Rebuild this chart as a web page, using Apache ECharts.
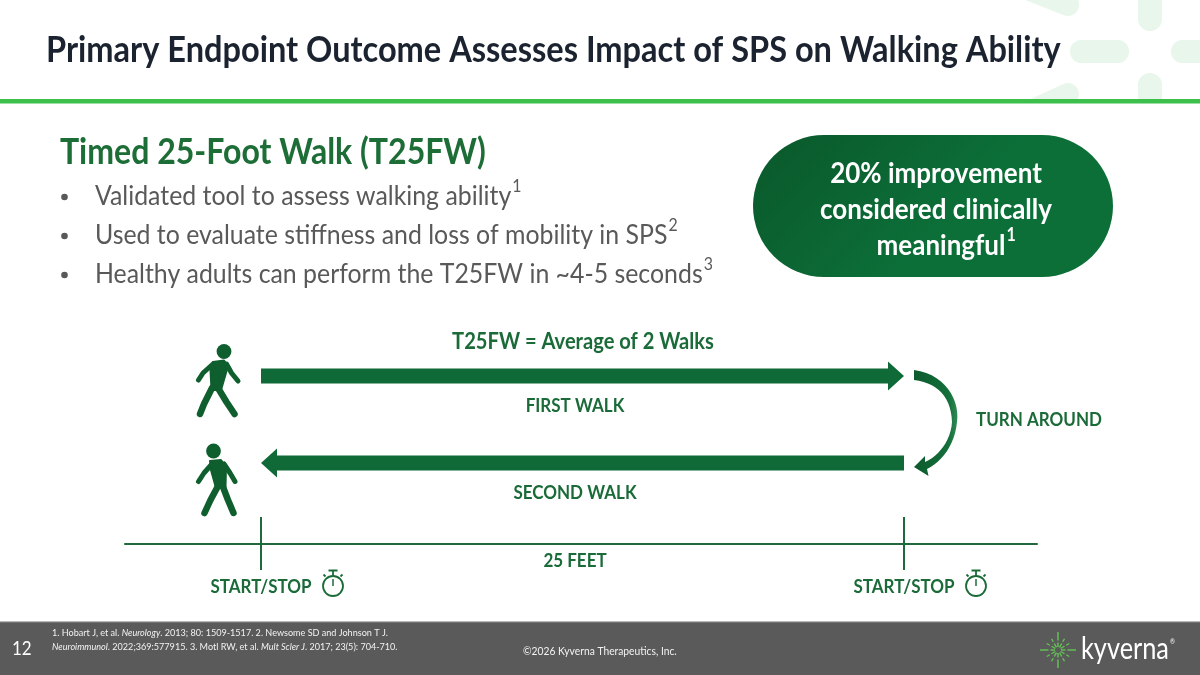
<!DOCTYPE html>
<html><head><meta charset="utf-8">
<script src="https://cdn.jsdelivr.net/npm/echarts@6/dist/echarts.min.js"></script>
<style>html,body{margin:0;padding:0;background:#fff}#c{width:1200px;height:675px}</style>
</head><body><div id="c"></div>
<script>
// ---------- content ----------
const slideTitle = 'Primary Endpoint Outcome Assesses Impact of SPS on Walking Ability';
const sectionTitle = 'Timed 25-Foot Walk (T25FW)';
const bulletTexts = [
  'Validated tool to assess walking ability',
  'Used to evaluate stiffness and loss of mobility in SPS',
  'Healthy adults can perform the T25FW in ~4-5 seconds'
];
const bulletRefs = ['1', '2', '3'];
const calloutLines = ['20% improvement', 'considered clinically', 'meaningful'];
const calloutRefs = ['', '', '1'];
const diagramTitle = 'T25FW = Average of 2 Walks';
const walkNames = ['FIRST WALK', 'SECOND WALK'];
const walkFromFt = [0, 25];
const walkToFt = [25, 0];
const timerMarksFt = [0, 25];
const timerLabel = 'START/STOP';
const distanceLabel = '25 FEET';
const turnLabel = 'TURN AROUND';
const footnoteLine1 = [['1. Hobart J, et al. ', 0], ['Neurology', 1], ['. 2013; 80: 1509-1517. 2. Newsome SD and Johnson T J.', 0]];
const footnoteLine2 = [['Neuroimmunol', 1], ['. 2022;369:577915. 3. Motl RW, et al. ', 0], ['Mult Scler J', 1], ['. 2017; 23(5): 704-710.', 0]];
const pageNumber = '12';
const copyrightText = '\u00a92026 Kyverna Therapeutics, Inc.';
const brandName = 'kyverna';

// ---------- helpers ----------
const FONT = 'Lato, "Open Sans", sans-serif';
const SY = 1.12; // vertical stretch to mimic the narrow original face
const ctx = document.createElement('canvas').getContext('2d');
function font(size, weight, style) { return (style || 'normal') + ' ' + (weight || 'normal') + ' ' + size + 'px ' + FONT; }
function tw(t, size, weight, style) { ctx.font = font(size, weight, style); return ctx.measureText(t).width; }
function fit(t, target, weight, style) { return +(100 * target / tw(t, 100, weight, style)).toFixed(2); }
function txt(text, x, y, size, fill, o) {
  o = o || {};
  return { type: 'text', silent: true, z: o.z || 20, x: x, y: y, scaleY: o.sy || SY,
    style: { text: text, x: 0, y: 0, font: font(size, o.weight, o.style), fill: fill,
      textAlign: o.align || 'left', textVerticalAlign: o.valign || 'middle' } };
}
function bez(p0, p1, p2, p3, n) {
  const out = [];
  for (let i = 1; i <= n; i++) {
    const t = i / n, u = 1 - t;
    out.push([u*u*u*p0[0] + 3*u*u*t*p1[0] + 3*u*t*t*p2[0] + t*t*t*p3[0],
              u*u*u*p0[1] + 3*u*u*t*p1[1] + 3*u*t*t*p2[1] + t*t*t*p3[1]]);
  }
  return out;
}

const GREEN = '#1b6b39';
const ARROW = '#0f6a38';
const GRAY = '#595959';
const DECO = '#e8f6eb';

const titleSize = fit(slideTitle, 1015, 'bold');
const sectionSize = fit(sectionTitle, 426, 'bold');
const bulletSize = fit(bulletTexts[2], 608);
const calloutSize = fit(calloutLines[1], 232, 'bold');
const diagTitleSize = fit(diagramTitle, 262, 'bold');
const labelSize = fit(turnLabel, 126, 'bold');
const footSize = fit(footnoteLine1.map(s => s[0]).join(''), 339);
const copySize = fit(copyrightText, 154);
const brandSize = fit(brandName, 88);

const els = [];

// decorative burst top-right
els.push({ type: 'rect', silent: true, z: 1, shape: { x: 1070, y: 40, width: 59, height: 23, r: 11.5 }, style: { fill: DECO } });
els.push({ type: 'rect', silent: true, z: 1, shape: { x: 1171, y: 40, width: 60, height: 23, r: 11.5 }, style: { fill: DECO } });
els.push({ type: 'rect', silent: true, z: 1, shape: { x: 1138, y: -25, width: 24, height: 56, r: 12 }, style: { fill: DECO } });
els.push({ type: 'rect', silent: true, z: 1, shape: { x: 1138, y: 73, width: 24, height: 50, r: 12 }, style: { fill: DECO } });
els.push({ type: 'polyline', silent: true, z: 1, shape: { points: [[1015, -16], [1068, 5]] }, style: { stroke: DECO, lineWidth: 22, lineCap: 'round' } });
els.push({ type: 'polyline', silent: true, z: 1, shape: { points: [[1068, 94], [1020, 116]] }, style: { stroke: DECO, lineWidth: 22, lineCap: 'round' } });
els.push({ type: 'rect', silent: true, z: 2, shape: { x: 990, y: 103, width: 210, height: 30 }, style: { fill: '#ffffff' } });
// header rule
els.push({ type: 'rect', silent: true, z: 3, shape: { x: 0, y: 99, width: 1200, height: 4.5 }, style: { fill: '#3dbf4c' } });

// title
els.push(txt(slideTitle, 46, 50, titleSize, '#1c2330', { weight: 'bold' }));
// section title
els.push(txt(sectionTitle, 60, 152, sectionSize, '#1d6d37', { weight: 'bold' }));
// bullets
const bulletY = [196, 235, 274];
bulletTexts.forEach((b, i) => {
  els.push({ type: 'circle', silent: true, z: 20, shape: { cx: 64.5, cy: bulletY[i] + 1, r: 3.3 }, style: { fill: GRAY } });
  els.push(txt(b, 95, bulletY[i], bulletSize, GRAY));
  els.push(txt(bulletRefs[i], 95 + tw(b, bulletSize) + 1, bulletY[i] - bulletSize * 0.4, bulletSize * 0.64, GRAY));
});

// callout pill
els.push({ type: 'rect', silent: true, z: 5, shape: { x: 753, y: 135, width: 360, height: 142, r: 71 },
  style: { fill: new echarts.graphic.LinearGradient(0, 0, 0.4, 1, [{ offset: 0, color: '#0a582b' }, { offset: 1, color: '#0c6f38' }]) } });
const calloutY = [174, 210, 246];
calloutLines.forEach((l, i) => {
  const w = tw(l, calloutSize, 'bold');
  const cx = i === 2 ? 941 : 936;
  els.push(txt(l, cx - w / 2, calloutY[i], calloutSize, '#ffffff', { weight: 'bold' }));
  if (calloutRefs[i]) els.push(txt(calloutRefs[i], cx + w / 2 + 1, calloutY[i] - calloutSize * 0.4, calloutSize * 0.62, '#ffffff', { weight: 'bold' }));
});

// diagram texts
els.push(txt(diagramTitle, 583, 342, diagTitleSize, GREEN, { weight: 'bold', align: 'center' }));
els.push(txt(walkNames[0], 575, 406, labelSize, GREEN, { weight: 'bold', align: 'center' }));
els.push(txt(walkNames[1], 575, 493, labelSize, GREEN, { weight: 'bold', align: 'center' }));
els.push(txt(distanceLabel, 575, 561, labelSize, GREEN, { weight: 'bold', align: 'center' }));
els.push(txt(turnLabel, 976, 420, labelSize, GREEN, { weight: 'bold' }));

// turn-around curved arrow
const outer = [[914, 370]].concat(
  bez([914, 370], [945, 374], [960, 400], [957, 422], 14),
  bez([957, 422], [955, 444], [942, 462], [927, 469], 12));
const inner = [[925, 462]].concat(
  bez([925, 462], [939, 456], [951, 440], [952, 422], 12),
  bez([952, 422], [951, 397], [938, 383], [914, 380], 14));
const curvePts = outer.concat([[928.5, 476], [914, 467], [925, 456]], inner);
els.push({ type: 'polygon', silent: true, z: 6, shape: { points: curvePts },
  style: { fill: new echarts.graphic.LinearGradient(0, 0, 1, 0, [{ offset: 0, color: '#0c5a2d' }, { offset: 0.8, color: '#146f3b' }, { offset: 1, color: '#2f8a55' }]) } });

// walkers
const WALK = '#0f5e2e';
function walker(head, torso, arms, legs) {
  const g = [];
  g.push({ type: 'circle', silent: true, z: 6, shape: { cx: head[0], cy: head[1], r: 7.4 }, style: { fill: WALK } });
  g.push({ type: 'polygon', silent: true, z: 6, shape: { points: torso }, style: { fill: WALK, stroke: WALK, lineWidth: 2, lineJoin: 'round' } });
  arms.forEach(l => g.push({ type: 'polyline', silent: true, z: 6, shape: { points: l }, style: { stroke: WALK, lineWidth: 5, lineCap: 'round', lineJoin: 'round', fill: null } }));
  legs.forEach(l => g.push({ type: 'polyline', silent: true, z: 6, shape: { points: l }, style: { stroke: WALK, lineWidth: 6.5, lineCap: 'round', lineJoin: 'round', fill: null } }));
  return g;
}
walker([224, 351.5],
  [[213, 362], [224, 360.5], [228, 366], [221, 390], [211.5, 390], [210.5, 370]],
  [[[213, 364], [203, 373], [198.5, 380]], [[226.5, 364], [231.5, 373], [238, 381]]],
  [[[212, 388], [204, 404], [200, 414]], [[218, 388], [226.5, 402], [234.5, 414]]]
).forEach(e => els.push(e));
walker([213.5, 451],
  [[210, 461], [221, 460], [226, 467], [225.5, 487], [216, 488], [211, 470]],
  [[[212, 464], [204, 473], [198.5, 481.5]], [[224, 464], [230, 473], [235, 481.5]]],
  [[[217.5, 487], [210.5, 500], [204.5, 513]], [[223, 487], [228, 500], [233.5, 513]]]
).forEach(e => els.push(e));

// footer
els.push({ type: 'rect', silent: true, z: 30, shape: { x: 0, y: 621, width: 1200, height: 54 }, style: { fill: '#5a5a5a' } });
els.push({ type: 'rect', silent: true, z: 31, shape: { x: 0, y: 621, width: 1200, height: 1.2 }, style: { fill: '#b9b9b9' } });
els.push(txt(pageNumber, 12, 649, 17, '#ffffff', { z: 32 }));
function footLine(segs, y) {
  let x = 52;
  segs.forEach(s => {
    const st = s[1] ? 'italic' : 'normal';
    els.push(txt(s[0], x, y, footSize, '#f2f2f2', { z: 32, style: st }));
    x += tw(s[0], footSize, 'normal', st);
  });
}
footLine(footnoteLine1, 633);
footLine(footnoteLine2, 647);
els.push(txt(copyrightText, 523, 651, copySize, '#f2f2f2', { z: 32 }));
els.push(txt(brandName, 1081, 649, brandSize, '#ffffff', { z: 32, sy: 1.25 }));
els.push(txt('\u00ae', 1081 + tw(brandName, brandSize) + 1, 642, 6, '#ffffff', { z: 32 }));
// brand burst
const bc = [1058, 650];
for (let k = 0; k < 12; k++) {
  const a = k * Math.PI / 6;
  const long = (k % 3 === 0) ? 18 : 13;
  const ca = Math.cos(a), sa = Math.sin(a);
  els.push({ type: 'polyline', silent: true, z: 32, shape: { points: [[bc[0] + ca * 3, bc[1] + sa * 3], [bc[0] + ca * 7.5, bc[1] + sa * 7.5]] }, style: { stroke: '#62c653', lineWidth: 1.4 } });
  els.push({ type: 'polyline', silent: true, z: 32, shape: { points: [[bc[0] + ca * 9.5, bc[1] + sa * 9.5], [bc[0] + ca * long, bc[1] + sa * long]] }, style: { stroke: '#62c653', lineWidth: 1.4 } });
}

// ---------- chart ----------
const chart = echarts.init(document.getElementById('c'), null, { renderer: 'canvas' });
const option = {
  animation: false,
  backgroundColor: '#ffffff',
  grid: { left: 125, width: 912, top: 330, height: 214 },
  xAxis: { type: 'value', min: -5.288, max: 30.171,
    axisLine: { show: true, lineStyle: { color: '#1f6a3c', width: 2 } },
    axisTick: { show: false }, axisLabel: { show: false }, splitLine: { show: false } },
  yAxis: { type: 'value', min: 0, max: 214, show: false },
  series: [
    { type: 'custom', name: 'walks', clip: false, silent: true, z: 5,
      data: walkFromFt.map((f, i) => [f, walkToFt[i], i]),
      renderItem: function (params, api) {
        const rowH = [168, 81][api.value(2)];
        const a = api.coord([api.value(0), rowH]);
        const b = api.coord([api.value(1), rowH]);
        const dir = Math.sign(b[0] - a[0]);
        const headLen = 16, half = 7.5, headHalf = 14.5;
        const hx = b[0] - dir * headLen;
        return { type: 'polygon', shape: { points: [
          [a[0], a[1] - half], [hx, a[1] - half], [hx, a[1] - headHalf], [b[0], b[1]],
          [hx, a[1] + headHalf], [hx, a[1] + half], [a[0], a[1] + half]] },
          style: { fill: ARROW } };
      } },
    { type: 'custom', name: 'timers', clip: false, silent: true, z: 5,
      data: timerMarksFt.map(f => [f, 0]),
      renderItem: function (params, api) {
        const p = api.coord([api.value(0), 0]);
        const sx = p[0] + 72, sy = 586;
        return { type: 'group', children: [
          { type: 'line', shape: { x1: p[0], y1: p[1] - 27, x2: p[0], y2: p[1] + 26 }, style: { stroke: '#1f6a3c', lineWidth: 2 } },
          { type: 'text', x: p[0], y: 587, scaleY: SY, style: { text: timerLabel, x: 0, y: 0, font: font(labelSize, 'bold'), fill: GREEN, textAlign: 'center', textVerticalAlign: 'middle' } },
          { type: 'circle', shape: { cx: sx, cy: sy, r: 10 }, style: { fill: 'none', stroke: GREEN, lineWidth: 1.8 } },
          { type: 'line', shape: { x1: sx - 4.5, y1: sy - 15.5, x2: sx + 4.5, y2: sy - 15.5 }, style: { stroke: GREEN, lineWidth: 2 } },
          { type: 'line', shape: { x1: sx, y1: sy - 15, x2: sx, y2: sy - 10 }, style: { stroke: GREEN, lineWidth: 1.8 } },
          { type: 'line', shape: { x1: sx, y1: sy - 7, x2: sx, y2: sy }, style: { stroke: GREEN, lineWidth: 1.5 } },
          { type: 'line', shape: { x1: sx + 7.5, y1: sy - 9.5, x2: sx + 9.5, y2: sy - 11.5 }, style: { stroke: GREEN, lineWidth: 1.8 } },
          { type: 'line', shape: { x1: sx - 7.5, y1: sy - 9.5, x2: sx - 9.5, y2: sy - 11.5 }, style: { stroke: GREEN, lineWidth: 1.8 } }
        ] };
      } }
  ],
  graphic: { elements: els }
};
chart.setOption(option);
</script>
</body></html>
